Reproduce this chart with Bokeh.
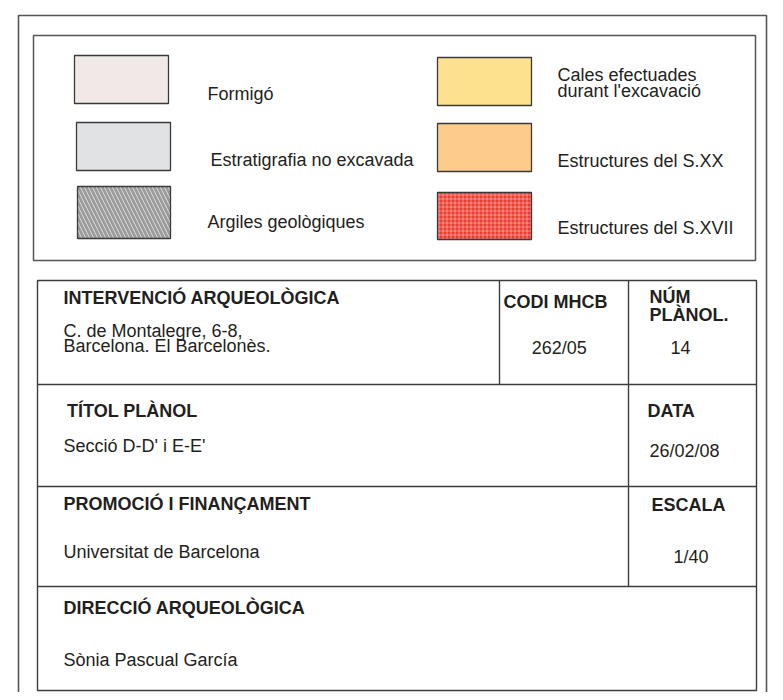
from bokeh.plotting import figure
from bokeh.models import Range1d
from bokeh.core.properties import value
from bokeh.embed import file_html
from bokeh.resources import INLINE

# ---- data ----
legend_left_labels = ["Formigó", "Estratigrafia no excavada", "Argiles geològiques"]
legend_left_colors = ["#f1e9e7", "#e1e2e4", "#9c9c9c"]
legend_left_hatch = [" ", " ", "\\"]
legend_right_labels = [["Cales efectuades", "durant l'excavació"],
                       ["Estructures del S.XX"],
                       ["Estructures del S.XVII"]]
legend_right_colors = ["#fee18f", "#fdcc8b", "#ee3b2f"]
legend_right_hatch = [" ", " ", "+"]

headers = ["INTERVENCIÓ ARQUEOLÒGICA", "CODI MHCB", "NÚM", "PLÀNOL.",
           "TÍTOL PLÀNOL", "DATA", "PROMOCIÓ I FINANÇAMENT", "ESCALA",
           "DIRECCIÓ ARQUEOLÒGICA"]
values_ = ["C. de Montalegre, 6-8,", "Barcelona. El Barcelonès.", "262/05", "14",
           "Secció D-D' i E-E'", "26/02/08", "Universitat de Barcelona", "1/40",
           "Sònia Pascual García"]

# ---- layout (screenshot pixel coordinates) ----
W, H = 775, 692
p = figure(width=W, height=H, x_range=Range1d(0, W), y_range=Range1d(H, 0),
           output_backend="svg", toolbar_location=None, min_border=0,
           x_axis_location=None, y_axis_location=None)
p.grid.visible = False
p.outline_line_color = None
p.background_fill_color = "white"
p.border_fill_color = "white"

FONT = value("Liberation Sans")
FS = "18px"
TXT = "#231f20"
LINE = "#3c3c3c"
DY = -6  # baseline correction

# outer frame (no bottom edge visible)
p.multi_line(xs=[[18, 18, 766, 766]], ys=[[H + 20, 15, 15, H + 20]], line_color="#555555", line_width=1.6)
# legend box
p.quad(left=[33], right=[755], top=[35], bottom=[260], fill_color=None, line_color="#555555", line_width=1.5)

# legend swatches
lx = [74, 76, 77]
lr = [168, 170, 170]
lt = [55, 122, 186]
lb = [103, 170, 238]
rt = [57, 123, 192]
rb = [105, 171, 239]
for i in range(3):
    p.quad(left=[lx[i]], right=[lr[i]], top=[lt[i]], bottom=[lb[i]],
           fill_color=legend_left_colors[i], line_color=None)
    if legend_left_hatch[i] != " ":
        p.quad(left=[lx[i]], right=[lr[i]], top=[lt[i]], bottom=[lb[i]],
               fill_color=None, line_color=None,
               hatch_pattern=legend_left_hatch[i], hatch_color="white",
               hatch_weight=0.6, hatch_scale=8, hatch_alpha=1.0)
    p.quad(left=[lx[i]], right=[lr[i]], top=[lt[i]], bottom=[lb[i]],
           fill_color=None, line_color="#3a3a3a", line_width=1.3)
for i in range(3):
    p.quad(left=[437], right=[531], top=[rt[i]], bottom=[rb[i]],
           fill_color=legend_right_colors[i], line_color=None)
    if legend_right_hatch[i] != " ":
        p.quad(left=[437], right=[531], top=[rt[i]], bottom=[rb[i]],
               fill_color=None, line_color=None,
               hatch_pattern=legend_right_hatch[i], hatch_color="white",
               hatch_weight=0.4, hatch_scale=4, hatch_alpha=1.0)
    p.quad(left=[437], right=[531], top=[rt[i]], bottom=[rb[i]],
           fill_color=None, line_color="#3a3a3a", line_width=1.3)

# legend texts
p.text(x=[207, 210, 207], y=[99.5 + DY, 165 + DY, 227 + DY], text=legend_left_labels,
       text_font=FONT, text_font_size=FS, text_color=TXT, text_baseline="alphabetic")
rlines = [legend_right_labels[0][0], legend_right_labels[0][1],
          legend_right_labels[1][0], legend_right_labels[2][0]]
ry = [80, 96, 166.5, 233]
p.text(x=[557, 557, 557, 557], y=[v + DY for v in ry], text=rlines,
       text_font=FONT, text_font_size=FS, text_color=TXT, text_baseline="alphabetic")

# title block lines
p.quad(left=[37], right=[756], top=[280], bottom=[690], fill_color=None, line_color=LINE, line_width=1.4)
p.segment(x0=[37, 37, 37, 499, 628], y0=[384, 486, 586, 280, 280],
          x1=[756, 756, 756, 499, 628], y1=[384, 486, 586, 384, 586],
          line_color=LINE, line_width=1.4)

# title block headers (bold)
hx = [63, 503, 649, 649, 66.5, 647, 63, 651, 63]
hy = [303, 307, 302, 320.5, 416, 416, 509, 510.7, 613.3]
p.text(x=hx, y=[v + DY for v in hy], text=headers, text_font=FONT, text_font_size=FS,
       text_font_style="bold", text_color=TXT, text_baseline="alphabetic")

# title block values
vx = [63, 63, 670, 63, 649, 63, 673, 63]
vy = [336, 351.5, 353, 451.5, 456, 557.7, 562.5, 665.5]
vt = [values_[0], values_[1], values_[3], values_[4], values_[5], values_[6], values_[7], values_[8]]
p.text(x=vx, y=[v + DY for v in vy], text=vt, text_font=FONT, text_font_size=FS,
       text_color=TXT, text_baseline="alphabetic")
p.text(x=[558.7], y=[353 + DY], text=[values_[2]], text_font=FONT, text_font_size=FS,
       text_color=TXT, text_baseline="alphabetic", text_align="center")

open("out.html", "w").write(file_html(p, INLINE))
